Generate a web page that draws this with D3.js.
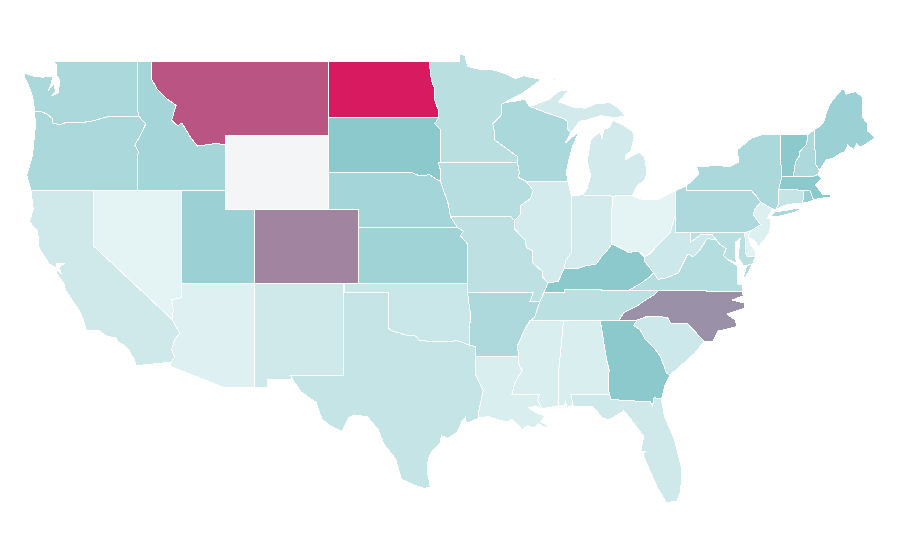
<!DOCTYPE html>
<html>
<head>
<meta charset="utf-8">
<title>US states</title>
<script src="https://cdn.jsdelivr.net/npm/d3@7"></script>
<style>
  body { margin: 0; background: #fff; }
  svg { display: block; }
  .state { stroke: #fff; stroke-width: 1; shape-rendering: crispEdges; }
</style>
</head>
<body>
<svg id="map" width="900" height="560"></svg>
<script>
// values, same order as the outlines below
const stateNames = ["WA","OR","CA","NV","ID","MT","WY","UT","AZ","NM","CO","ND","SD","NE","KS","OK","TX","MN","IA","MO","AR","LA","WI","IL","MI","IN","OH","KY","TN","MS","AL","GA","FL","SC","NC","VA","WV","MD","DE","PA","NJ","NY","CT","RI","MA","VT","NH","ME"];
const stateValues = [31,31,15,6,34,83,0,38,8.5,15,69,100,45,34,36,18,20,25,26,23,30,11,31,13,14,13,6,45,24,11,11,45,15,16.5,65,27,16,25,7,30,9.5,31,20,40,45,45,30,38];

// lon/lat outlines, [state] -> list of rings
const WA = [[[-123.1,49],[-117.03,49],[-117.04,46.42],[-116.92,46],[-118.98,46],[-119.3,45.93],[-120.2,45.73],[-121.2,45.65],[-121.8,45.7],[-122.3,45.55],[-122.76,45.65],[-122.8,45.9],[-123.2,46.15],[-123.55,46.25],[-124,46.25],[-124.07,46.7],[-124.1,46.9],[-124.2,47.2],[-124.43,47.7],[-124.68,48.1],[-124.73,48.38],[-124.2,48.2],[-123.5,48.13],[-123.1,48.15],[-122.75,48.15],[-122.95,47.6],[-123.1,47.4],[-122.65,47.8],[-122.6,47.3],[-122.9,47.1],[-122.4,47.28],[-122.35,47.6],[-122.3,47.95],[-122.55,48.3],[-122.5,48.75],[-122.76,49]]];
const OR = [[[-124,46.25],[-123.55,46.25],[-123.2,46.15],[-122.8,45.9],[-122.76,45.65],[-122.3,45.55],[-121.8,45.7],[-121.2,45.65],[-120.2,45.73],[-119.3,45.93],[-118.98,46],[-116.92,46],[-116.46,45.6],[-116.85,44.95],[-117.2,44.45],[-117.03,44.2],[-116.95,44.1],[-117.03,43.8],[-117.03,42],[-124.25,42],[-124.55,42.84],[-124.4,43.2],[-124.15,43.9],[-124.05,44.7],[-123.95,45.5]]];
const CA = [[[-124.25,42],[-120,42],[-120,39],[-114.63,35],[-114.45,34.7],[-114.15,34.27],[-114.5,33.95],[-114.7,33.4],[-114.5,33],[-114.72,32.72],[-117.12,32.53],[-117.25,32.85],[-117.6,33.4],[-118.05,33.7],[-118.35,33.8],[-118.5,34.03],[-119.2,34.15],[-119.6,34.42],[-120.5,34.45],[-120.65,34.9],[-120.9,35.4],[-121.9,36.6],[-122,36.95],[-122.5,37.5],[-122.5,37.75],[-122.2,37.5],[-122.35,37.85],[-122,38.05],[-122.5,38.05],[-122.5,37.83],[-123,38],[-123.7,38.9],[-123.8,39.8],[-124.35,40.3],[-124.1,41]]];
const NV = [[[-120,42],[-114.05,42],[-114.05,36.2],[-114.35,36.15],[-114.7,36.1],[-114.6,35.6],[-114.63,35],[-120,39]]];
const ID = [[[-117.03,49],[-116.05,49],[-116.05,48],[-115.7,47.5],[-115.1,47],[-114.4,46.6],[-114.7,45.8],[-114.3,45.5],[-114,45.65],[-113.4,44.85],[-112.95,44.4],[-111.6,44.55],[-111.05,44.45],[-111.05,42],[-117.03,42],[-117.03,43.8],[-116.95,44.1],[-117.03,44.2],[-117.2,44.45],[-116.85,44.95],[-116.46,45.6],[-116.92,46],[-117.04,46.42]]];
const MT = [[[-116.05,49],[-104.05,49],[-104.05,45],[-111.05,45],[-111.05,44.45],[-111.6,44.55],[-112.95,44.4],[-113.4,44.85],[-114,45.65],[-114.3,45.5],[-114.7,45.8],[-114.4,46.6],[-115.1,47],[-115.7,47.5],[-116.05,48]]];
const WY = [[[-111.05,45],[-104.05,45],[-104.05,41],[-111.05,41]]];
const UT = [[[-114.05,42],[-111.05,42],[-111.05,41],[-109.05,41],[-109.05,37],[-114.05,37]]];
const AZ = [[[-114.05,37],[-109.05,37],[-109.05,31.33],[-111.07,31.33],[-114.8,32.5],[-114.72,32.72],[-114.5,33],[-114.7,33.4],[-114.5,33.95],[-114.15,34.27],[-114.45,34.7],[-114.63,35],[-114.6,35.6],[-114.7,36.1],[-114.35,36.15],[-114.05,36.2]]];
const NM = [[[-109.05,37],[-103,37],[-103.05,32],[-106.62,32],[-106.5,31.78],[-108.2,31.78],[-108.2,31.33],[-109.05,31.33]]];
const CO = [[[-109.05,41],[-102.05,41],[-102.05,37],[-109.05,37]]];
const ND = [[[-104.05,49],[-97.23,49],[-97.15,48.5],[-97.05,47.9],[-96.85,47.5],[-96.85,46.9],[-96.6,46.35],[-96.56,45.94],[-104.05,45.94]]];
const SD = [[[-104.05,45.94],[-96.56,45.94],[-96.85,45.6],[-96.45,45.3],[-96.45,43.5],[-96.6,43.5],[-96.45,43.1],[-96.45,42.5],[-96.7,42.6],[-97.2,42.85],[-97.9,42.8],[-98.5,43],[-104.05,43]]];
const NE = [[[-104.05,43],[-98.5,43],[-97.9,42.8],[-97.2,42.85],[-96.7,42.6],[-96.45,42.5],[-96.25,42],[-96.1,41.7],[-95.9,41.2],[-95.77,40.58],[-95.3,40],[-102.05,40],[-102.05,41],[-104.05,41]]];
const KS = [[[-102.05,40],[-95.3,40],[-94.9,39.8],[-95.1,39.55],[-94.6,39.1],[-94.62,37],[-102.05,37]]];
const OK = [[[-103,37],[-94.62,37],[-94.62,36.5],[-94.43,35.4],[-94.48,33.64],[-95.3,33.88],[-95.8,33.85],[-96.6,33.85],[-97.2,33.85],[-97.9,33.9],[-98.1,34.13],[-98.9,34.2],[-99.2,34.3],[-99.7,34.4],[-100,34.56],[-100,36.5],[-103,36.5]]];
const TX = [[[-103,36.5],[-100,36.5],[-100,34.56],[-99.7,34.4],[-99.2,34.3],[-98.9,34.2],[-98.1,34.13],[-97.9,33.9],[-97.2,33.85],[-96.6,33.85],[-95.8,33.85],[-95.3,33.88],[-94.48,33.64],[-94.04,33.55],[-94.04,32],[-93.55,31.2],[-93.7,30.6],[-93.85,30.1],[-93.85,29.7],[-94.7,29.4],[-94.75,29.75],[-95,29.5],[-95.3,28.95],[-95.95,28.6],[-96.4,28.75],[-96.45,28.35],[-97,27.95],[-97.2,27.65],[-97.35,27.2],[-97.35,26.9],[-97.15,25.96],[-97.6,25.9],[-98.3,26.1],[-99.1,26.4],[-99.5,27.5],[-100.3,28.3],[-100.7,29.1],[-101.4,29.77],[-102.3,29.87],[-102.7,29.7],[-103.15,28.98],[-104,29.3],[-104.5,29.65],[-104.9,30.55],[-105.9,31.1],[-106.5,31.78],[-106.62,32],[-103.05,32]]];
const MN = [[[-97.23,49],[-95.15,49],[-95.15,49.38],[-94.8,49.3],[-94.6,48.7],[-93.8,48.55],[-93,48.55],[-92,48.3],[-91.4,48.05],[-90.8,48.2],[-89.6,48],[-90.8,47.3],[-92.1,46.75],[-92.3,46.65],[-92.3,46.1],[-92.9,45.6],[-92.75,45],[-92.8,44.75],[-91.25,43.85],[-91.22,43.5],[-96.45,43.5],[-96.45,45.3],[-96.85,45.6],[-96.56,45.94],[-96.6,46.35],[-96.85,46.9],[-96.85,47.5],[-97.05,47.9],[-97.15,48.5]]];
const IA = [[[-96.6,43.5],[-91.22,43.5],[-91.1,43],[-91.15,42.7],[-90.64,42.5],[-90.15,42],[-90.35,41.55],[-91,41.2],[-91,40.7],[-91.42,40.38],[-91.7,40.6],[-95.77,40.58],[-95.9,41.2],[-96.1,41.7],[-96.25,42],[-96.45,42.5],[-96.45,43.1]]];
const MO = [[[-95.77,40.58],[-91.7,40.6],[-91.42,40.38],[-91.4,39.9],[-90.7,39.3],[-90.6,38.9],[-90.2,38.75],[-90.2,38.1],[-89.5,37.6],[-89.5,37.3],[-89.15,37],[-89.42,36.5],[-89.7,36],[-90.37,36],[-90.15,36.5],[-94.62,36.5],[-94.62,37],[-94.6,39.1],[-95.1,39.55],[-94.9,39.8],[-95.3,40]]];
const AR = [[[-94.62,36.5],[-90.15,36.5],[-90.37,36],[-89.7,36],[-90.07,35.13],[-90.3,35],[-90.6,34.7],[-90.95,34.1],[-91.2,33.65],[-91.17,33],[-94.04,33.02],[-94.04,33.55],[-94.48,33.64],[-94.43,35.4]]];
const LA = [[[-94.04,33.02],[-91.17,33],[-91.1,32.5],[-90.9,32.3],[-91.4,31.6],[-91.6,31],[-89.73,31],[-89.85,30.65],[-89.55,30.2],[-90,30.35],[-90.45,30.25],[-90.1,30.05],[-89.4,29.8],[-89.65,29.5],[-89.4,29.4],[-89,29.15],[-89.5,29.25],[-89.8,29.4],[-90.1,29.15],[-90.55,29.3],[-90.9,29.05],[-91.3,29.4],[-91.6,29.65],[-91.85,29.5],[-92.3,29.55],[-93.2,29.78],[-93.85,29.7],[-93.85,30.1],[-93.7,30.6],[-93.55,31.2],[-94.04,32]]];
const WI = [[[-92.1,46.75],[-91.2,46.85],[-90.75,46.95],[-90.4,46.55],[-89.1,46.15],[-88.1,45.9],[-87.85,45.75],[-87.85,45.35],[-87.6,45.1],[-88,44.55],[-87.35,45],[-87.05,45.25],[-87.2,44.9],[-87.5,44.35],[-87.75,43.6],[-87.9,43],[-87.8,42.5],[-90.64,42.5],[-91.15,42.7],[-91.1,43],[-91.22,43.5],[-91.25,43.85],[-92.8,44.75],[-92.75,45],[-92.9,45.6],[-92.3,46.1],[-92.3,46.65]]];
const IL = [[[-87.8,42.5],[-87.6,41.85],[-87.53,41.7],[-87.53,38.7],[-87.95,38.2],[-88.05,37.8],[-88.45,37.1],[-89.15,37],[-89.5,37.3],[-89.5,37.6],[-90.2,38.1],[-90.2,38.75],[-90.6,38.9],[-90.7,39.3],[-91.4,39.9],[-91.42,40.38],[-91,40.7],[-91,41.2],[-90.35,41.55],[-90.15,42],[-90.64,42.5]]];
const MI = [[[-86.8,41.76],[-86.5,42.1],[-86.25,42.8],[-86.5,43.6],[-86.25,44.7],[-86.05,44.9],[-85.6,45.15],[-85.5,44.8],[-85.35,45.3],[-85,45.4],[-84.75,45.78],[-84.2,45.6],[-83.4,45.2],[-83.3,44.85],[-83.55,44.1],[-83.9,43.9],[-83.9,43.65],[-83.4,43.9],[-82.95,44.07],[-82.6,43.8],[-82.42,43],[-82.55,42.6],[-83.1,42.25],[-83.45,41.72],[-84.8,41.7]],
  [[-90.4,46.55],[-89.1,46.9],[-88.45,47.35],[-87.75,47.45],[-88.2,47],[-88.45,46.8],[-87.4,46.5],[-86.6,46.45],[-85.95,46.68],[-85,46.75],[-84.4,46.5],[-83.9,46],[-84.75,45.95],[-85.6,46.05],[-86.5,45.8],[-87,45.75],[-87.6,45.1],[-87.85,45.35],[-87.85,45.75],[-88.1,45.9],[-89.1,46.15]],
  [[-89.2,47.85],[-88.45,48.15],[-88.7,47.95]]];
const IN = [[[-87.53,41.7],[-87.2,41.75],[-86.8,41.76],[-84.8,41.7],[-84.82,39.1],[-85.2,38.7],[-85.45,38.5],[-85.9,38],[-86.5,37.95],[-87.1,37.8],[-88.05,37.8],[-87.95,38.2],[-87.53,38.7]]];
const OH = [[[-84.8,41.7],[-83.45,41.72],[-82.7,41.5],[-81.7,41.5],[-80.52,41.98],[-80.52,40.64],[-80.65,40.3],[-80.85,39.7],[-81.75,39],[-82.2,38.6],[-82.6,38.4],[-83,38.72],[-83.7,38.65],[-84.25,38.9],[-84.82,39.1]]];
const KY = [[[-89.42,36.5],[-88.05,36.5],[-88.05,36.65],[-83.68,36.6],[-82.9,36.95],[-82.3,37.3],[-81.97,37.54],[-82.6,38.17],[-82.6,38.4],[-83,38.72],[-83.7,38.65],[-84.25,38.9],[-84.82,39.1],[-85.2,38.7],[-85.45,38.5],[-85.9,38],[-86.5,37.95],[-87.1,37.8],[-88.05,37.8],[-88.45,37.1],[-89.15,37]]];
const TN = [[[-90.3,35],[-88.2,35],[-85.6,35],[-84.32,35],[-84,35.4],[-83.1,35.75],[-82.6,36.05],[-81.95,36.35],[-81.68,36.59],[-83.68,36.6],[-88.05,36.65],[-88.05,36.5],[-89.42,36.5],[-89.7,36],[-90.07,35.13]]];
const MS = [[[-90.3,35],[-88.2,35],[-88.1,34.9],[-88.47,31.9],[-88.4,30.37],[-89.55,30.2],[-89.85,30.65],[-89.73,31],[-91.6,31],[-91.4,31.6],[-90.9,32.3],[-91.1,32.5],[-91.17,33],[-91.2,33.65],[-90.95,34.1],[-90.6,34.7]]];
const AL = [[[-88.2,35],[-85.6,35],[-85.18,32.87],[-85,32.3],[-85.05,31.55],[-85,31],[-87.6,31],[-87.45,30.4],[-87.9,30.25],[-87.95,30.65],[-88.05,30.35],[-88.4,30.37],[-88.47,31.9],[-88.1,34.9]]];
const GA = [[[-85.6,35],[-83.1,35],[-83.35,34.7],[-82.9,34.48],[-82.55,33.95],[-81.9,33.45],[-81.5,33],[-81.1,32.1],[-80.85,32.03],[-81.2,31.5],[-81.45,30.72],[-81.95,30.8],[-82.05,30.36],[-82.2,30.57],[-84.86,30.7],[-85,31],[-85.05,31.55],[-85,32.3],[-85.18,32.87]]];
const FL = [[[-87.6,31],[-85,31],[-84.86,30.7],[-82.2,30.57],[-82.05,30.36],[-81.95,30.8],[-81.45,30.72],[-81.25,29.8],[-80.55,28.5],[-80.05,26.9],[-80.15,25.75],[-80.4,25.2],[-81.1,25.13],[-81.7,25.9],[-82.15,26.7],[-82.7,27.7],[-82.55,27.9],[-82.85,27.9],[-82.65,28.7],[-83.4,29.5],[-84,30.1],[-85,29.6],[-85.4,29.7],[-86.2,30.35],[-87.45,30.3],[-87.45,30.4]]];
const SC = [[[-83.1,35],[-82.4,35.2],[-81.05,35.15],[-80.8,34.82],[-79.68,34.8],[-78.55,33.85],[-79.2,33.2],[-79.9,32.7],[-80.85,32.03],[-81.1,32.1],[-81.5,33],[-81.9,33.45],[-82.55,33.95],[-82.9,34.48],[-83.35,34.7]]];
const NC = [[[-84.32,35],[-83.1,35],[-82.4,35.2],[-81.05,35.15],[-80.8,34.82],[-79.68,34.8],[-78.55,33.85],[-77.95,33.85],[-77.6,34.4],[-76.3,34.65],[-76.45,35],[-77,35.32],[-75.8,35.65],[-75.8,35.92],[-76.65,36.08],[-75.9,36.3],[-75.95,36.55],[-81.68,36.59],[-81.95,36.35],[-82.6,36.05],[-83.1,35.75],[-84,35.4]]];
const VA = [[[-83.68,36.6],[-81.68,36.59],[-75.95,36.55],[-75.95,36.9],[-76.3,36.95],[-76.3,37.5],[-76.25,37.9],[-77,38.3],[-77.25,38.5],[-77.05,38.85],[-77.5,39.1],[-77.72,39.32],[-78.35,39.4],[-78.85,38.78],[-79.3,38.4],[-79.65,38.58],[-80.3,37.55],[-81.2,37.25],[-81.68,37.2],[-81.97,37.54],[-82.3,37.3],[-82.9,36.95]],
  [[-75.95,37.15],[-75.65,37.95],[-75.25,38.03],[-75.6,37.5]]];
const WV = [[[-81.97,37.54],[-81.68,37.2],[-81.2,37.25],[-80.3,37.55],[-79.65,38.58],[-79.3,38.4],[-78.85,38.78],[-78.35,39.4],[-77.72,39.32],[-78,39.6],[-78.4,39.6],[-78.8,39.6],[-79.48,39.2],[-79.48,39.72],[-80.52,39.72],[-80.52,40.64],[-80.65,40.3],[-80.85,39.7],[-81.75,39],[-82.2,38.6],[-82.6,38.4],[-82.6,38.17]]];
const MD = [[[-79.48,39.72],[-75.79,39.72],[-75.7,38.46],[-75.05,38.45],[-75.25,38.03],[-75.65,37.95],[-75.9,37.95],[-76.25,38.4],[-76.1,39.4],[-76.45,39.2],[-76.45,38.9],[-76.4,38.3],[-76.3,38.05],[-77,38.3],[-77.25,38.5],[-77.05,38.85],[-77.5,39.1],[-77.72,39.32],[-78,39.6],[-78.4,39.6],[-78.8,39.6],[-79.48,39.2]]];
const DE = [[[-75.79,39.72],[-75.42,39.8],[-75.55,39.5],[-75.4,39.05],[-75.1,38.75],[-75.05,38.45],[-75.7,38.46]]];
const PA = [[[-80.52,41.98],[-79.76,42.25],[-79.76,42],[-75.35,42],[-75.05,41.75],[-74.7,41.36],[-75.13,40.98],[-75.2,40.68],[-74.72,40.15],[-75.42,39.8],[-75.79,39.72],[-80.52,39.72]]];
const NJ = [[[-74.7,41.36],[-73.9,41],[-74.25,40.5],[-74,40.45],[-74.1,39.75],[-74.4,39.4],[-74.9,38.93],[-75,39.2],[-75.55,39.5],[-75.42,39.8],[-74.72,40.15],[-75.2,40.68],[-75.13,40.98]]];
const NY = [[[-79.76,42.25],[-79.76,42],[-75.35,42],[-75.05,41.75],[-74.7,41.36],[-73.9,41],[-73.65,41],[-73.5,41.3],[-73.5,42.05],[-73.27,42.75],[-73.35,43.6],[-73.34,45.01],[-74.7,45],[-75.3,44.85],[-76.3,44.2],[-76.2,43.55],[-76.8,43.3],[-77.8,43.35],[-79.05,43.27],[-78.9,42.9]],
  [[-74,40.6],[-73.75,40.85],[-72.6,40.97],[-72.3,41.05],[-71.87,41.05],[-72.5,40.8],[-73.5,40.6]]];
const CT = [[[-73.5,42.05],[-71.8,42.02],[-71.85,41.32],[-72.9,41.25],[-73.65,41],[-73.5,41.3]]];
const RI = [[[-71.8,42.02],[-71.38,42.02],[-71.2,41.65],[-71.12,41.5],[-71.5,41.37],[-71.85,41.32]]];
const MA = [[[-73.5,42.05],[-73.27,42.75],[-72.46,42.73],[-71.25,42.74],[-70.82,42.87],[-70.6,42.65],[-71,42.3],[-70.65,41.95],[-70.5,41.78],[-70,41.78],[-69.95,41.65],[-70.65,41.58],[-71.12,41.5],[-71.2,41.65],[-71.38,42.02],[-71.8,42.02]]];
const VT = [[[-73.34,45.01],[-71.5,45.01],[-71.6,44.5],[-72.05,44.1],[-72.05,43.9],[-72.35,43.55],[-72.45,43],[-72.46,42.73],[-73.27,42.75],[-73.35,43.6]]];
const NH = [[[-71.5,45.01],[-71.08,45.3],[-70.98,43.4],[-70.7,43.07],[-70.82,42.87],[-71.25,42.74],[-72.46,42.73],[-72.45,43],[-72.35,43.55],[-72.05,43.9],[-72.05,44.1],[-71.6,44.5]]];
const ME = [[[-71.08,45.3],[-70.8,45.4],[-70.4,45.75],[-70.25,46.2],[-70,46.7],[-69.23,47.45],[-69,47.43],[-68.9,47.2],[-68.3,47.35],[-67.8,47.07],[-67.78,45.95],[-67.45,45.6],[-67.43,45.2],[-66.95,44.85],[-67.6,44.5],[-68,44.35],[-68.2,44.5],[-68.4,44.2],[-68.8,44.45],[-69,44.1],[-69.3,44],[-69.8,43.75],[-70.25,43.65],[-70.55,43.3],[-70.7,43.07],[-70.98,43.4]]];

const stateOutlines = [WA,OR,CA,NV,ID,MT,WY,UT,AZ,NM,CO,ND,SD,NE,KS,OK,TX,MN,IA,MO,AR,LA,WI,IL,MI,IN,OH,KY,TN,MS,AL,GA,FL,SC,NC,VA,WV,MD,DE,PA,NJ,NY,CT,RI,MA,VT,NH,ME];

const x = d3.scaleLinear().domain([-102.05, -66.95]).range([358, 875]);
const y = d3.scaleLinear().domain([49, 37]).range([61, 283]);

const color = d3.scaleLinear()
  .domain([0, 5, 50, 100])
  .range(["#f4f5f7", "#e6f4f5", "#80c4c8", "#d81b60"]);

const plain = d3.geoTransform({
  point(lon, lat) { this.stream.point(x(lon), y(lat)); }
});
const path = d3.geoPath(plain);

const states = stateNames.map((name, i) => ({
  name,
  value: stateValues[i],
  geometry: { type: "MultiPolygon", coordinates: stateOutlines[i].map(r => [r.concat([r[0]])]) }
}));

d3.select("#map").selectAll("path")
  .data(states)
  .join("path")
  .attr("class", "state")
  .attr("d", d => path(d.geometry))
  .attr("fill", d => color(d.value));
</script>
</body>
</html>
